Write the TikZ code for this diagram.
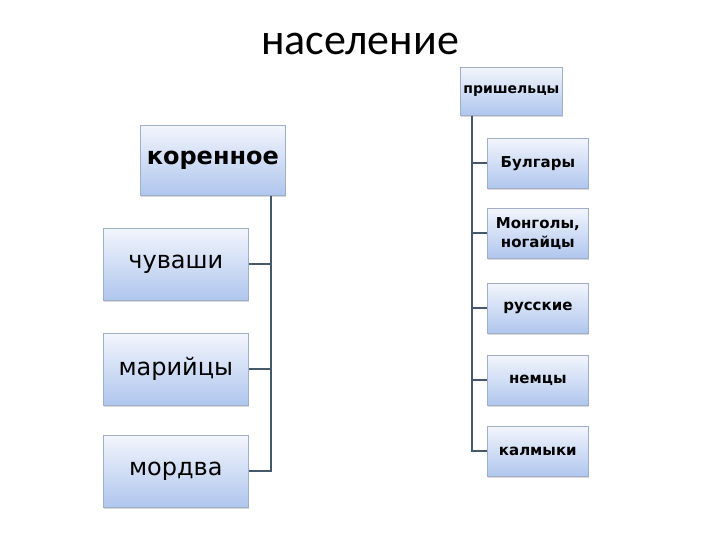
\documentclass[tikz,border=0pt]{standalone}
\usepackage{fontspec}
\setmainfont{DejaVu Sans}
\newfontfamily\titlefont{Carlito}
\usetikzlibrary{shadows}
\definecolor{boxtop}{HTML}{F2F5FC}
\definecolor{boxbottom}{HTML}{AFC6EE}
\definecolor{boxline}{HTML}{A0AFC8}
\definecolor{linkgray}{HTML}{46596B}

\begin{document}
\begin{tikzpicture}[x=1pt,y=-1pt,
    groupbox/.style={draw=boxline, line width=0.7pt, top color=boxtop, bottom color=boxbottom,
      anchor=north west, inner sep=0pt, align=center,
      drop shadow={shadow xshift=0.8pt, shadow yshift=-2pt, opacity=0.3}},
    link/.style={linkgray, line width=2.2pt}]
  \useasboundingbox (0,0) rectangle (720,540);
  \node (title) at (360,44) {\titlefont\fontsize{44}{46}\selectfont население};
  % left branch
  \node[groupbox, minimum width=145pt, minimum height=70pt, font=\bfseries\fontsize{24}{28}\selectfont] (kor) at (140,125) {коренное};
  \foreach \n/\y/\lbl in {chuv/228/чуваши, mari/333/марийцы, mord/435/мордва}
    \node[groupbox, minimum width=145pt, minimum height=72pt, font=\fontsize{24}{28}\selectfont] (\n) at (103,\y) {\lbl};
  \coordinate (lspine) at ([xshift=-15pt]kor.south east);
  \foreach \n in {chuv,mari,mord} \draw[link] (lspine) |- (\n.east);
  % right branch
  \node[groupbox, minimum width=102pt, minimum height=48pt, font=\bfseries\fontsize{14}{17}\selectfont] (prish) at (460,67) {пришельцы};
  \foreach \n/\y/\lbl in {bulg/138/Булгары, mong/208/{Монголы,\\ногайцы}, russ/283/русские, nem/355/немцы, kalm/426/калмыки}
    \node[groupbox, minimum width=101pt, minimum height=50pt, font=\bfseries\fontsize{15}{19}\selectfont] (\n) at (487,\y) {\lbl};
  \coordinate (rspine) at ([xshift=12pt]prish.south west);
  \foreach \n in {bulg,mong,russ,nem,kalm} \draw[link] (rspine) |- (\n.west);
\end{tikzpicture}
\end{document}
